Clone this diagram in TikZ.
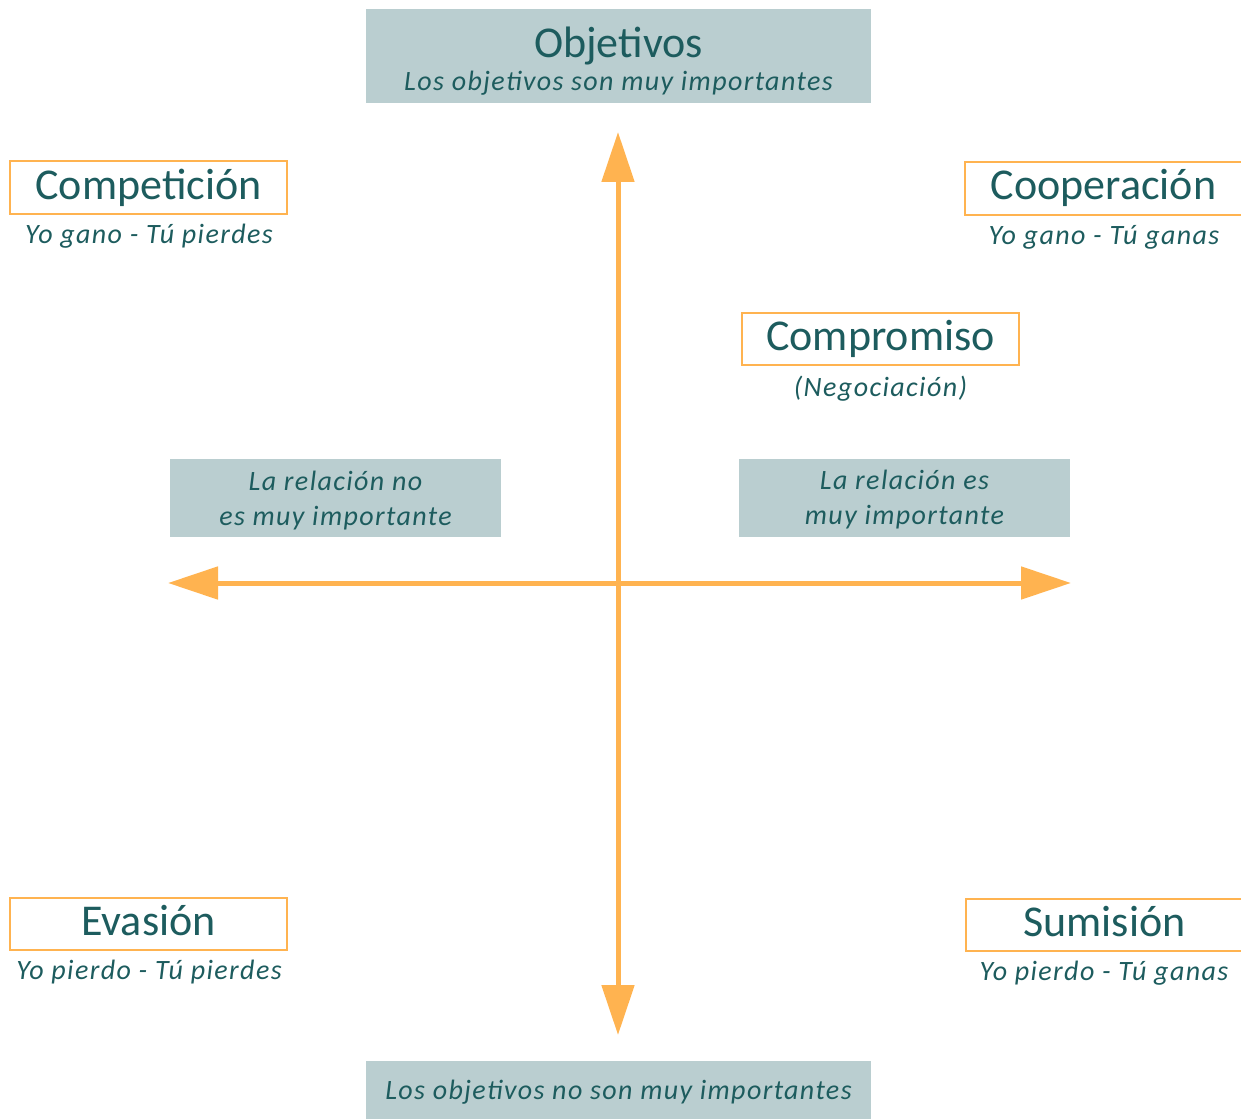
\documentclass[tikz,border=0pt]{standalone}
\usepackage{fontspec}
\setmainfont{Carlito}
\newfontfamily\subfamily{Carlito}[LetterSpace=5.0]
\usetikzlibrary{arrows.meta}
\definecolor{boxfill}{HTML}{BACED0}
\definecolor{tealtext}{HTML}{1D5C5E}
\definecolor{axisorange}{HTML}{FFB350}
\newcommand{\titlesize}{\fontsize{44}{50}\selectfont}
\newcommand{\subsize}{\subfamily\itshape\fontsize{28}{35}\selectfont}
\tikzset{
  bluebox/.style={fill=boxfill, draw=none, inner sep=0pt},
  orangebox/.style={draw=axisorange, line width=2pt, fill=white, inner xsep=0pt, inner ysep=0pt,
     minimum width=277pt, text height=37.5pt, text depth=14.5pt, font=\titlesize, text=tealtext},
  titletext/.style={font=\titlesize, text=tealtext, inner sep=0pt, anchor=base},
  subtext/.style={font=\subsize, text=tealtext, inner sep=0pt, anchor=base},
  relbox/.style={bluebox, minimum width=331pt, minimum height=78pt, align=center,
     text depth=0pt, font=\subsize, text=tealtext},
  axis/.style={draw=axisorange, line width=5pt,
     {Triangle[width=32pt,length=50pt]}-{Triangle[width=32pt,length=50pt]}}
}
\begin{document}
\begin{tikzpicture}[x=1pt,y=-1pt]
\useasboundingbox (0,0) rectangle (1241,1118);
\clip (0,0) rectangle (1241,1118);

% top box
\node[bluebox, minimum width=505pt, minimum height=94pt] (topbox) at (618.5,56) {};
\node[titletext] (objt) at (618.5,58) {Objetivos};
\node[subtext] (objs) at (618.5,91) {Los objetivos son muy importantes};

% bottom box
\node[bluebox, minimum width=505pt, minimum height=94pt] (botbox) at (618.5,1108) {};
\node[subtext] (nobjs) at (618.5,1099) {Los objetivos no son muy importantes};

% relation boxes
\node[relbox] (relno) at (335.5,498) {La relación no\\es muy importante};
\node[relbox] (relsi) at (904.5,497.5) {La relación es\\muy importante};

% axes
\coordinate (ytop) at (618,132);
\coordinate (ybot) at (618,1035);
\coordinate (xleft) at (168,583);
\coordinate (xright) at (1071,583);
\draw[axis] (ybot) -- (ytop);
\draw[axis] (xleft) -- (xright);

% strategy boxes
\node[orangebox] (comp) at (148.5,187.5) {Competición};
\node[subtext] (comps) at (149,243) {Yo gano - Tú pierdes};

\node[orangebox] (coop) at (1103.5,188.5) {Cooperación};
\node[subtext] (coops) at (1104,244) {Yo gano - Tú ganas};

\node[orangebox] (compr) at (880.5,339) {Compromiso};
\node[subtext] (comprs) at (880.5,396) {(Negociación)};

\node[orangebox] (eva) at (148.5,923.5) {Evasión};
\node[subtext] (evas) at (149,979) {Yo pierdo - Tú pierdes};

\node[orangebox] (sum) at (1104.5,924.5) {Sumisión};
\node[subtext] (sums) at (1104,980) {Yo pierdo - Tú ganas};
\end{tikzpicture}
\end{document}
